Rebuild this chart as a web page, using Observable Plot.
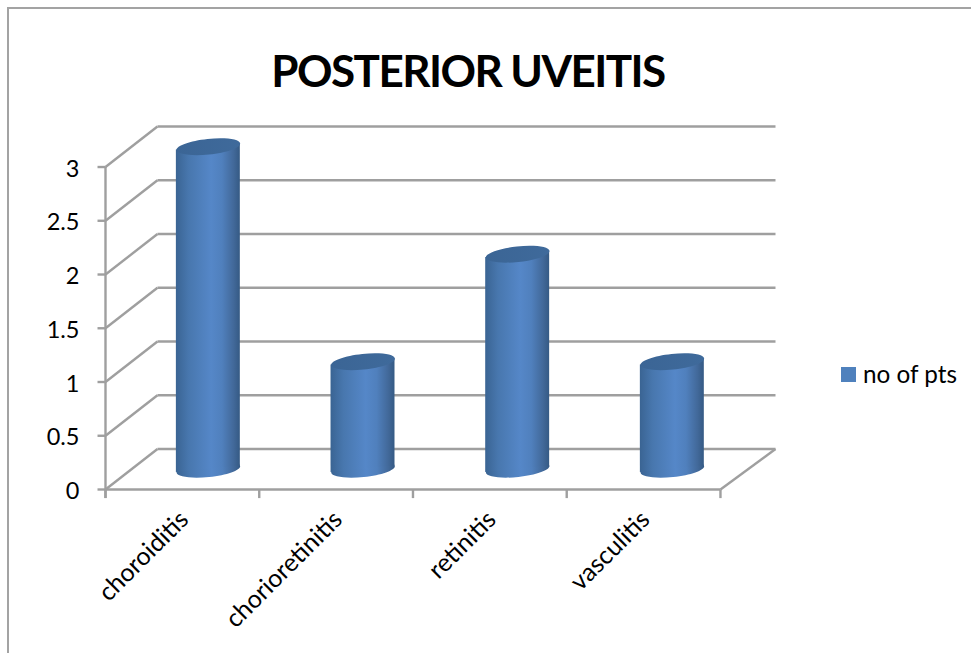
<!DOCTYPE html>
<html>
<head>
<meta charset="utf-8">
<script src="https://cdn.jsdelivr.net/npm/d3@7"></script>
<script src="https://cdn.jsdelivr.net/npm/@observablehq/plot@0.6"></script>
<style>
  html, body { margin: 0; padding: 0; background: #fff; overflow: hidden; }
  #chart { position: relative; width: 971px; height: 653px; font-family: Lato, sans-serif; color: #000; overflow: hidden; }
  #frame { position: absolute; left: 7px; top: 7px; right: -10px; bottom: -10px; border-left: 2px solid #a3a3a3; border-top: 2px solid #a3a3a3; pointer-events: none; }
  #title { position: absolute; left: 8px; width: 920px; top: 42px; text-align: center; font-weight: 700; font-size: 44px; line-height: 56px; letter-spacing: -1.55px; }
  #legend { position: absolute; left: 841px; top: 360px; display: flex; align-items: center; font-size: 24.3px; line-height: 28px; }
  #legend i { display: block; width: 15px; height: 15px; background: #4f81bd; margin-right: 7px; }
  svg { position: absolute; left: 0; top: 0; }
</style>
</head>
<body>
<div id="chart">
  <div id="frame"></div>
  <div id="title"></div>
  <div id="legend"><i></i><span></span></div>
</div>
<script>
const chartTitle = "POSTERIOR UVEITIS";
const seriesName = "no of pts";
const categories = ["choroiditis", "chorioretinitis", "retinitis", "vasculitis"];
const patients = [3, 1, 2, 1];
const yTicks = [0, 0.5, 1, 1.5, 2, 2.5, 3];
const yTickLabels = ["0", "0.5", "1", "1.5", "2", "2.5", "3"];

// Oblique projection: how far the back wall sits from the front plane, in data units.
const depthX = 0.338;
const depthY = 0.377;
const halfBar = 0.208;   // half the cylinder width along x
const barStep = 1.006;   // spacing between cylinder centres along x
const tilt = 0.03;       // slope of the cylinder caps along y

const grey = "#9f9f9f";
const lineWidth = 2.4;
const front = categories.map((c, i) => ({c, x: 0.669 + i * barStep, v: patients[i], y: patients[i] + depthY / 2, y0: depthY / 2}));

// Cylinder sides: one two-point area per category.
const sides = front.flatMap((d) => [
  {c: d.c, x: d.x - halfBar, lo: d.y0 - tilt, hi: d.y - tilt},
  {c: d.c, x: d.x + halfBar, lo: d.y0 + tilt, hi: d.y + tilt}
]);

// Elliptical cap used as a dot symbol, tilted slightly upward on the right.
const cap = {
  draw(ctx) {
    const rx = 32, ry = 7.8, a = 6 * Math.PI / 180, k = 0.5523;
    const p = (u, v) => [u * Math.cos(a) + v * Math.sin(a), -u * Math.sin(a) + v * Math.cos(a)];
    ctx.moveTo(...p(rx, 0));
    ctx.bezierCurveTo(...p(rx, k * ry), ...p(k * rx, ry), ...p(0, ry));
    ctx.bezierCurveTo(...p(-k * rx, ry), ...p(-rx, k * ry), ...p(-rx, 0));
    ctx.bezierCurveTo(...p(-rx, -k * ry), ...p(-k * rx, -ry), ...p(0, -ry));
    ctx.bezierCurveTo(...p(k * rx, -ry), ...p(rx, -k * ry), ...p(rx, 0));
    ctx.closePath();
  }
};

// Shared paint servers for the cylinder side and top.
function gradients() {
  const defs = d3.create("svg:defs");
  const add = (id, stops) => {
    const g = defs.append("linearGradient").attr("id", id).attr("x1", 0).attr("x2", 1).attr("y1", 0).attr("y2", 0);
    stops.forEach(([o, c]) => g.append("stop").attr("offset", o).attr("stop-color", c));
  };
  add("side", [[0, "#3a6493"], [0.2, "#4877ae"], [0.55, "#5587c8"], [0.72, "#5080bd"], [0.9, "#42699a"], [1, "#355a84"]]);
  add("top", [[0, "#3b6595"], [1, "#3f6a9b"]]);
  return defs.node();
}

const plot = Plot.plot({
  width: 971,
  height: 653,
  marginLeft: 105,
  marginRight: 196,
  marginTop: 126,
  marginBottom: 164,
  style: {background: "transparent", fontFamily: "Lato, sans-serif", color: "#000"},
  x: {type: "linear", domain: [0, 4 + depthX + 0.02], axis: null},
  y: {type: "linear", domain: [0, 3 + depthY], axis: null},
  marks: [
    gradients,
    // Back wall gridlines and the side wall diagonals.
    Plot.link(yTicks, {x1: () => depthX, x2: () => 4 + depthX + 0.02, y1: (v) => v + depthY, y2: (v) => v + depthY, stroke: grey, strokeWidth: lineWidth}),
    Plot.link(yTicks, {x1: () => 0, x2: () => depthX, y1: (v) => v, y2: (v) => v + depthY, stroke: grey, strokeWidth: lineWidth}),
    Plot.link([0], {x1: () => 4, x2: () => 4 + depthX + 0.02, y1: () => 0, y2: () => depthY, stroke: grey, strokeWidth: lineWidth}),
    // Front axes and their tick marks.
    Plot.link([0], {x1: () => 0, x2: () => 0, y1: () => -0.08, y2: () => 3, stroke: grey, strokeWidth: lineWidth}),
    Plot.link([0], {x1: () => 0, x2: () => 4, y1: () => 0, y2: () => 0, stroke: grey, strokeWidth: lineWidth}),
    Plot.link(yTicks, {x1: () => 0, x2: () => -0.052, y1: (v) => v, y2: (v) => v, stroke: grey, strokeWidth: lineWidth}),
    Plot.link(d3.range(categories.length + 1), {x1: (i) => i, x2: (i) => i, y1: () => 0, y2: () => -0.08, stroke: grey, strokeWidth: lineWidth}),
    // Cylinders: base, side, top.
    Plot.dot(front, {x: "x", y: "y0", symbol: cap, fill: "url(#side)"}),
    Plot.area(sides, {x1: "x", y1: "lo", y2: "hi", z: "c", fill: "url(#side)"}),
    Plot.dot(front, {x: "x", y: "y", symbol: cap, fill: "url(#top)"}),
    // Tick labels.
    Plot.text(yTicks, {x: () => 0, y: (v) => v, text: (v, i) => yTickLabels[i], textAnchor: "end", dx: -26, dy: 2, fontSize: 23.5, fill: "#000"}),
    Plot.text(categories, {x: (c, i) => i + 0.5, y: () => 0, text: (c) => c, rotate: -45, textAnchor: "end", dx: 2, dy: 26, fontSize: 25, fill: "#000"})
  ]
});

document.getElementById("chart").prepend(plot);
document.getElementById("title").textContent = chartTitle;
document.querySelector("#legend span").textContent = seriesName;
</script>
</body>
</html>
